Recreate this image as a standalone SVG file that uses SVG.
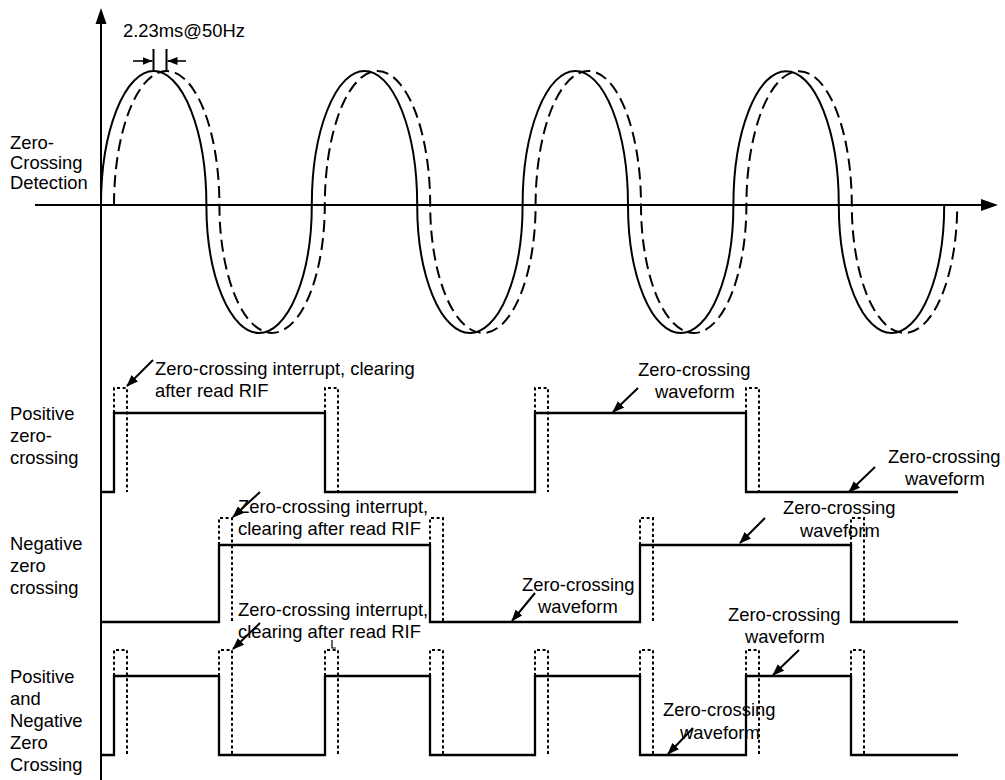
<svg xmlns="http://www.w3.org/2000/svg" width="1005" height="780" viewBox="0 0 1005 780">
<style>
text{font-family:"Liberation Sans",Arial,sans-serif;font-size:18.4px;fill:#000}
.ax{stroke:#000;stroke-width:2;fill:none}
.sig{stroke:#000;stroke-width:2.3;fill:none;stroke-linejoin:miter}
.dot{stroke:#000;stroke-width:2;fill:none;stroke-dasharray:3 2.6}
.sine{stroke:#000;stroke-width:2;fill:none}
.dash{stroke:#000;stroke-width:2;fill:none;stroke-dasharray:12 6}
.arr{stroke:#000;stroke-width:2;fill:none;marker-end:url(#ah)}
.arrs{stroke:#000;stroke-width:1.6;fill:none;marker-end:url(#ahs)}
</style>
<defs>
<marker id="ah" markerUnits="userSpaceOnUse" markerWidth="12" markerHeight="9" refX="11" refY="4.5" orient="auto"><path d="M0,0 L12,4.5 L0,9 z" fill="#000"/></marker>
<marker id="ahs" markerUnits="userSpaceOnUse" markerWidth="10" markerHeight="8" refX="10" refY="4" orient="auto"><path d="M0,0 L10,4 L0,8 z" fill="#000"/></marker>
</defs>
<rect width="1005" height="780" fill="#fff"/>
<g id="axes">
<line class="ax" x1="101" y1="22" x2="101" y2="780"/>
<polygon points="101,8 95.5,24 106.5,24" fill="#000"/>
<line class="ax" x1="35" y1="205" x2="983" y2="205"/>
<polygon points="998,205 981,199 981,211" fill="#000"/>
</g>
<g id="sine-solid">
<path class="sine" d="M101,205 A52.7,134 0 0 1 206.4,205 A52.7,128 0 0 0 311.8,205 A52.7,134 0 0 1 417.2,205 A52.7,128 0 0 0 522.6,205 A52.7,134 0 0 1 628,205 A52.7,128 0 0 0 733.4,205 A52.7,134 0 0 1 838.8,205 A52.7,128 0 0 0 944.2,205"/>
</g>
<g id="sine-dashed">
<path class="dash" d="M114,205 A52.7,134 0 0 1 219.4,205 A52.7,128 0 0 0 324.8,205 A52.7,134 0 0 1 430.2,205 A52.7,128 0 0 0 535.6,205 A52.7,134 0 0 1 641,205 A52.7,128 0 0 0 746.4,205 A52.7,134 0 0 1 851.8,205 A52.7,128 0 0 0 957.2,205"/>
</g>
<g id="delay-marker">
<line class="ax" x1="153.5" y1="49" x2="153.5" y2="72"/>
<line class="ax" x1="166.5" y1="49" x2="166.5" y2="72"/>
<line class="arrs" x1="133" y1="61" x2="152.5" y2="61"/>
<line class="arrs" x1="186" y1="61" x2="167.5" y2="61"/>
<text x="123" y="37">2.23ms@50Hz</text>
</g>
<g id="labels">
<text x="10" y="149">Zero-</text>
<text x="10" y="169">Crossing</text>
<text x="10" y="189">Detection</text>
<text x="10" y="420">Positive</text>
<text x="10" y="442">zero-</text>
<text x="10" y="464">crossing</text>
<text x="10" y="550">Negative</text>
<text x="10" y="572">zero</text>
<text x="10" y="594">crossing</text>
<text x="10" y="683">Positive</text>
<text x="10" y="705">and</text>
<text x="10" y="727">Negative</text>
<text x="10" y="749">Zero</text>
<text x="10" y="771">Crossing</text>
</g>
<g id="positive-row">
<path class="sig" d="M101,492 H114 V413 H325 V492 H535 V413 H746 V492 H958"/>
<path class="dot" d="M114,413 V388 H127 V492 M325,413 V388 H338 V492 M535,413 V388 H548 V492 M746,413 V388 H759 V492"/>
</g>
<g id="negative-row">
<path class="sig" d="M101,622 H219 V545 H430 V622 H640 V545 H851 V622 H958"/>
<path class="dot" d="M219,545 V518 H232 V622 M430,545 V518 H443 V622 M640,545 V518 H653 V622 M851,545 V518 H864 V622"/>
</g>
<g id="both-row">
<path class="sig" d="M101,755 H114 V676 H219 V755 H325 V676 H430 V755 H535 V676 H640 V755 H746 V676 H851 V755 H958"/>
<path class="dot" d="M114,676 V650 H127 V755 M219,676 V650 H232 V755 M325,676 V650 H338 V755 M430,676 V650 H443 V755 M535,676 V650 H548 V755 M640,676 V650 H653 V755 M746,676 V650 H759 V755 M851,676 V650 H864 V755"/>
</g>
<g id="annotations">
<text x="155" y="375">Zero-crossing interrupt, clearing</text>
<text x="155" y="397">after read RIF</text>
<text x="238" y="513">Zero-crossing interrupt,</text>
<text x="238" y="535">clearing after read RIF</text>
<text x="238" y="616">Zero-crossing interrupt,</text>
<text x="238" y="638">clearing after read RIF</text>
<text x="638" y="376">Zero-crossing</text>
<text x="655" y="398">waveform</text>
<text x="888" y="463">Zero-crossing</text>
<text x="905" y="485">waveform</text>
<text x="783" y="514">Zero-crossing</text>
<text x="800" y="537">waveform</text>
<text x="522" y="591">Zero-crossing</text>
<text x="538" y="613">waveform</text>
<text x="728" y="621">Zero-crossing</text>
<text x="745" y="643">waveform</text>
<text x="663" y="716">Zero-crossing</text>
<text x="680" y="739">waveform</text>
</g>
<g id="connectors">
<line class="arr" x1="153" y1="360" x2="127" y2="386"/>
<line class="arr" x1="260" y1="492" x2="233" y2="517"/>
<line class="arr" x1="260" y1="623" x2="233" y2="649"/>
<line class="arr" x1="638" y1="388" x2="613" y2="412"/>
<line class="arr" x1="875" y1="467" x2="849" y2="492"/>
<line class="arr" x1="765" y1="518" x2="740" y2="543"/>
<line class="arr" x1="535" y1="593" x2="512" y2="621"/>
<line class="arr" x1="799" y1="650" x2="773" y2="675"/>
<line class="arr" x1="693" y1="728" x2="668" y2="754"/>
<polyline points="332,640 332,648 336,648" stroke="#000" stroke-width="1.2" fill="none"/>
</g>
</svg>
